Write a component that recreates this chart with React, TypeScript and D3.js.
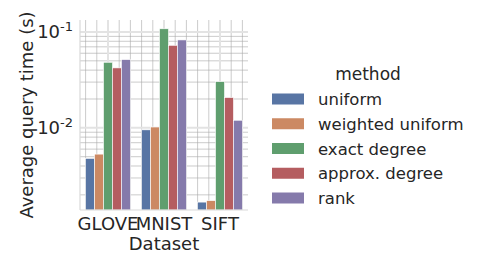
import React, { useRef, useEffect } from "react";
import * as d3 from "d3";

const datasets = ["GLOVE", "MNIST", "SIFT"];
const methods = ["uniform", "weighted uniform", "exact degree", "approx. degree", "rank"];
const colors = ["#5875a4", "#cc8963", "#5f9e6e", "#b55d60", "#857aab"];

// query time in seconds, one array per method (GLOVE, MNIST, SIFT)
const uniform = [0.0048, 0.00953, 0.00168];
const weightedUniform = [0.00532, 0.0102, 0.00174];
const exactDegree = [0.0483, 0.108, 0.0303];
const approxDegree = [0.0422, 0.0726, 0.0207];
const rank = [0.0515, 0.0826, 0.012];

const yMajorTicks = [0.01, 0.1];
const yTickExp = ["-2", "-1"];

const FONT = "DejaVu Sans, sans-serif";
const TEXT = "#262626";

function App() {
  const svgRef = useRef(null);

  useEffect(() => {
    const svg = d3.select(svgRef.current);
    svg.selectAll("*").remove();

    const series = [uniform, weightedUniform, exactDegree, approxDegree, rank];
    const left = 80,
      right = 248,
      top = 20,
      bottom = 210;

    const x = d3.scaleLinear().domain([-0.5, datasets.length - 0.5]).range([left, right]);
    const y = d3
      .scaleLog()
      .domain([Math.pow(10, -2.857), Math.pow(10, -0.875)])
      .range([bottom, top]);

    // minor grid
    const yMinor = [];
    [0.001, 0.01].forEach((dec) => {
      for (let k = 2; k <= 9; k++) yMinor.push(dec * k);
    });
    const g = svg.append("g");
    g.selectAll(".yminor")
      .data(yMinor.filter((v) => v > y.domain()[0] && v < y.domain()[1]))
      .enter()
      .append("line")
      .attr("x1", left)
      .attr("x2", right)
      .attr("y1", (d) => y(d))
      .attr("y2", (d) => y(d))
      .attr("stroke", "#a8a8a8")
      .attr("stroke-width", 0.6);

    const xMinor = d3.range(-0.4, datasets.length - 0.5, 0.2).filter((v) => Math.abs(v - Math.round(v)) > 0.01);
    g.selectAll(".xminor")
      .data(xMinor)
      .enter()
      .append("line")
      .attr("x1", (d) => x(d))
      .attr("x2", (d) => x(d))
      .attr("y1", top)
      .attr("y2", bottom)
      .attr("stroke", "#a8a8a8")
      .attr("stroke-width", 0.6);

    // major grid
    g.selectAll(".ymajor")
      .data(yMajorTicks)
      .enter()
      .append("line")
      .attr("x1", left)
      .attr("x2", right)
      .attr("y1", (d) => y(d))
      .attr("y2", (d) => y(d))
      .attr("stroke", "#e3e3e3")
      .attr("stroke-width", 2);
    g.selectAll(".xmajor")
      .data(datasets.map((_, i) => i))
      .enter()
      .append("line")
      .attr("x1", (d) => x(d))
      .attr("x2", (d) => x(d))
      .attr("y1", top)
      .attr("y2", bottom)
      .attr("stroke", "#e3e3e3")
      .attr("stroke-width", 2);

    // bars
    const barW = 0.8 / methods.length;
    series.forEach((vals, m) => {
      svg
        .append("g")
        .selectAll("rect")
        .data(vals)
        .enter()
        .append("rect")
        .attr("x", (d, i) => x(i - 0.4 + m * barW))
        .attr("width", x(barW) - x(0))
        .attr("y", (d) => y(d))
        .attr("height", (d) => bottom - y(d))
        .attr("fill", colors[m])
        .attr("stroke", "#fff")
        .attr("stroke-width", 0.6);
    });

    // spines
    svg.append("line").attr("x1", left).attr("x2", left).attr("y1", top).attr("y2", bottom)
      .attr("stroke", "#d9d9d9").attr("stroke-width", 1.2);
    svg.append("line").attr("x1", left).attr("x2", right).attr("y1", bottom).attr("y2", bottom)
      .attr("stroke", "#d9d9d9").attr("stroke-width", 1.2);

    // y tick labels
    yMajorTicks.forEach((v, i) => {
      const t = svg
        .append("text")
        .attr("x", 73)
        .attr("y", y(v) + 6.5)
        .attr("text-anchor", "end")
        .style("font", `18px ${FONT}`)
        .attr("fill", TEXT);
      t.append("tspan").text("10");
      t.append("tspan").attr("dy", -7).style("font-size", "13px").text(yTickExp[i]);
    });

    // x tick labels
    svg
      .selectAll(".xlab")
      .data(datasets)
      .enter()
      .append("text")
      .attr("x", (d, i) => x(i))
      .attr("y", 230)
      .attr("text-anchor", "middle")
      .style("font", `18px ${FONT}`)
      .attr("fill", TEXT)
      .text((d) => d);

    svg.append("text").attr("x", x(1)).attr("y", 250).attr("text-anchor", "middle")
      .style("font", `18px ${FONT}`).attr("fill", TEXT).text("Dataset");

    svg.append("text").attr("transform", "translate(33,115) rotate(-90)").attr("text-anchor", "middle")
      .style("font", `18px ${FONT}`).attr("fill", TEXT).text("Average query time (s)");

    // legend
    svg.append("text").attr("x", 368).attr("y", 80).attr("text-anchor", "middle")
      .style("font", `17px ${FONT}`).attr("fill", TEXT).text("method");
    const ly = d3.scalePoint().domain(methods).range([99, 198]);
    const leg = svg.append("g").selectAll("g").data(methods).enter().append("g")
      .attr("transform", (d) => `translate(0,${ly(d)})`);
    leg.append("rect").attr("x", 272).attr("y", -5.5).attr("width", 32).attr("height", 11)
      .attr("fill", (d, i) => colors[i]);
    leg.append("text").attr("x", 318).attr("y", 6).style("font", `16.5px ${FONT}`)
      .attr("fill", TEXT).text((d) => d);
  }, []);

  return <svg ref={svgRef} width={480} height={273} style={{ position: "absolute", left: 0, top: 0, background: "#fff" }}></svg>;
}

export default App;
